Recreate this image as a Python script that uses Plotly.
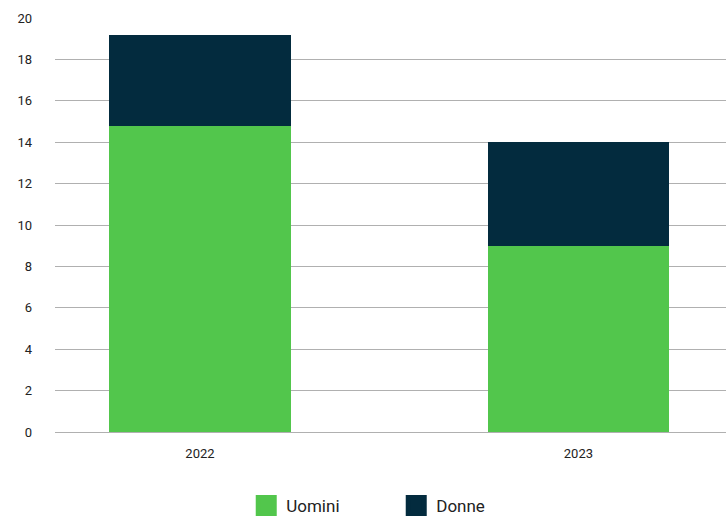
import plotly.graph_objects as go

years = ["2022", "2023"]
uomini = [14.8, 9.0]
donne = [4.4, 5.0]
y_ticks = [0, 2, 4, 6, 8, 10, 12, 14, 16, 18, 20]

GREEN = "#52c64c"
DARK = "#032b3e"

fig = go.Figure()
fig.add_trace(go.Bar(x=years, y=uomini, name="Uomini", marker_color=GREEN,
                     marker_line_width=0, width=0.48, showlegend=False))
fig.add_trace(go.Bar(x=years, y=donne, name="Donne", marker_color=DARK,
                     marker_line_width=0, width=0.48, showlegend=False))
# legend entries with larger square swatches
for name, col in [("Uomini", GREEN), ("Donne", DARK)]:
    fig.add_trace(go.Scatter(x=[None], y=[None], mode="markers", name=name,
                             marker=dict(symbol="square", size=16, color=col,
                                         line=dict(color=col, width=5))))

fig.update_layout(
    barmode="stack",
    width=726, height=520,
    margin=dict(l=55, r=0, t=18, b=88),
    plot_bgcolor="white", paper_bgcolor="white",
    font=dict(family="Roboto, sans-serif", color="#222222", size=13),
    legend=dict(orientation="h", x=0.285, xanchor="left",
                yref="container", y=0.027, yanchor="middle",
                font=dict(size=17, color="#222222"), itemsizing="trace",
                entrywidth=105, entrywidthmode="pixels",
                itemwidth=30, traceorder="normal"),
    xaxis=dict(type="category", range=[-0.383, 1.39], showgrid=False,
               showline=False, ticks="", ticklabelstandoff=12,
               tickfont=dict(size=13)),
    yaxis=dict(range=[0, 20], tickvals=y_ticks, showgrid=True,
               gridcolor="#b0b0b0", gridwidth=1, zeroline=True,
               zerolinecolor="#b0b0b0", zerolinewidth=1, showline=False,
               ticks="", ticklabelstandoff=22, tickfont=dict(size=13)),
)

fig.write_html("out.html", config={"displayModeBar": False},
               post_script="document.body.style.margin='0';document.body.style.overflow='hidden';")
